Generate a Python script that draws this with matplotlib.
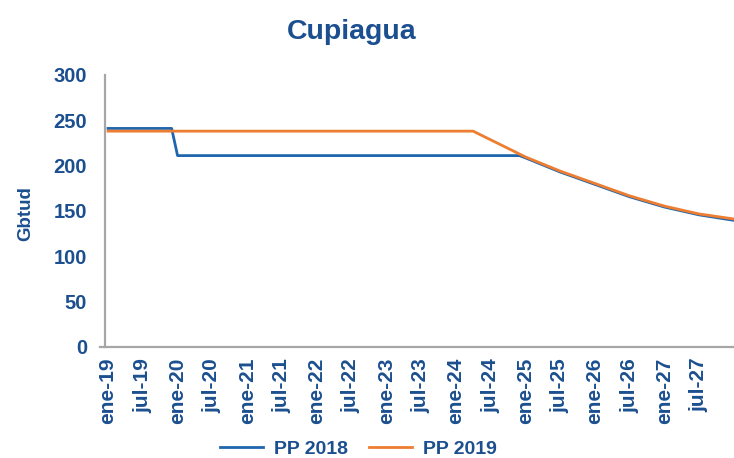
import matplotlib
matplotlib.use("Agg")
import matplotlib.pyplot as plt
import matplotlib.dates as mdates
import pandas as pd

# values (Gbtud)
dates_2018 = ["2019-01", "2019-12", "2020-01", "2024-12", "2025-01", "2025-07",
              "2026-01", "2026-07", "2027-01", "2027-07", "2028-01"]
pp_2018 = [241, 241, 211, 211, 208.5, 193.0, 179.2, 165.6, 154.2, 145.6, 139.5]

dates_2019 = ["2019-01", "2024-04", "2025-01", "2025-07", "2026-01", "2026-07",
              "2027-01", "2027-07", "2028-01"]
pp_2019 = [238, 238, 209.5, 194.0, 180.2, 166.6, 155.2, 146.6, 141.0]

tick_dates = pd.date_range("2019-01-01", "2027-07-01", freq="6MS")
month_names = {1: "ene", 7: "jul"}
tick_labels = [f"{month_names[d.month]}-{d.strftime('%y')}" for d in tick_dates]
y_ticks = [0, 50, 100, 150, 200, 250, 300]

text_col = "#1B4F8F"
blue = "#1F66AD"
orange = "#ED7D31"
axis_col = "#A6A6A6"

plt.rcParams["font.family"] = ["Liberation Sans", "DejaVu Sans"]
plt.rcParams["font.weight"] = "bold"

fig = plt.figure(figsize=(7.34, 4.58), dpi=100)
ax = fig.add_axes([105 / 734, 1 - 346.7 / 458, 629 / 734, (346.7 - 75) / 458])

ax.plot(pd.to_datetime(dates_2018), pp_2018, color=blue, lw=2.0, label="PP 2018")
ax.plot(pd.to_datetime(dates_2019), pp_2019, color=orange, lw=2.0, label="PP 2019")

xmin = pd.Timestamp("2018-12-16")
xmax = pd.Timestamp("2028-01-01")
ax.set_xlim(xmin, xmax)
ax.set_ylim(0, 300)

ax.set_xticks(tick_dates)
ax.set_xticklabels(tick_labels, rotation=90, fontsize=15, color=text_col, fontweight="bold")
ax.set_yticks(y_ticks)
ax.set_yticklabels([str(v) for v in y_ticks], fontsize=14.5, color=text_col, fontweight="bold")
ax.tick_params(axis="x", length=0, pad=8)
ax.tick_params(axis="y", length=0, pad=13)

for s in ["top", "right"]:
    ax.spines[s].set_visible(False)
for s in ["left", "bottom"]:
    ax.spines[s].set_color(axis_col)
    ax.spines[s].set_linewidth(1.6)
ax.spines["bottom"].set_bounds(mdates.date2num(pd.Timestamp("2018-11-20")), mdates.date2num(xmax))

fig.text(352 / 734, 1 - 32 / 458, "Cupiagua", ha="center", va="center",
         fontsize=20.5, color=text_col, fontweight="bold")
fig.text(26 / 734, 1 - 214 / 458, "Gbtud", ha="center", va="center", rotation=90,
         fontsize=13.5, color=text_col, fontweight="bold")

leg = fig.legend(loc="center", bbox_to_anchor=(358.5 / 734, 1 - 449 / 458), ncol=2,
                 frameon=False, fontsize=14, handlelength=2.2, handletextpad=0.55,
                 columnspacing=1.1)
for t in leg.get_texts():
    t.set_color(text_col)
    t.set_fontweight("bold")

fig.savefig("out.png", dpi=100)
